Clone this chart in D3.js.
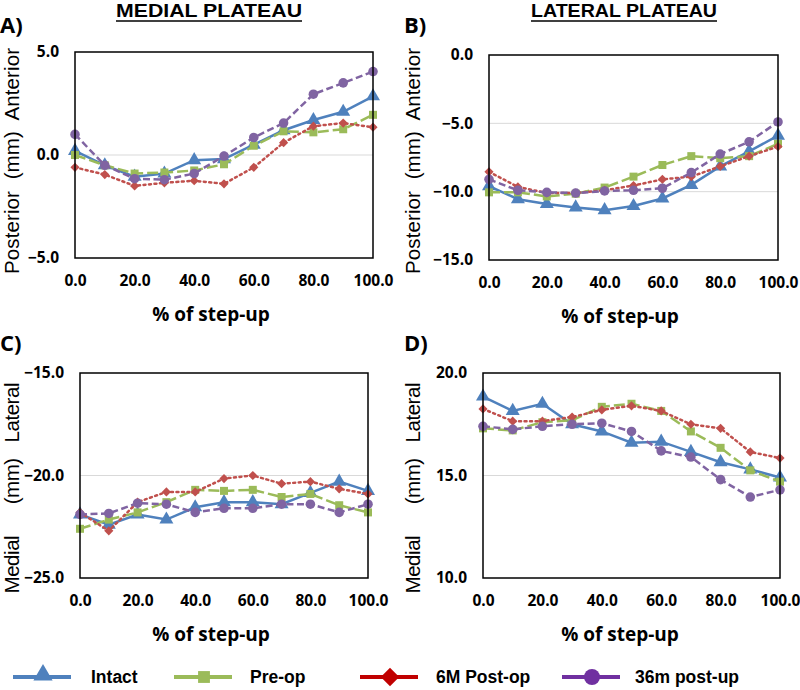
<!DOCTYPE html>
<html>
<head>
<meta charset="utf-8">
<script src="https://cdn.jsdelivr.net/npm/d3@7"></script>
<style>
  body { margin: 0; background: #fff; }
  svg { display: block; font-family: "Open Sans", sans-serif; }
</style>
</head>
<body>
<svg id="chart" width="800" height="690"></svg>
<script>
// % of step-up
var pct = [0, 10, 20, 30, 40, 50, 60, 70, 80, 90, 100];

// A) medial plateau, posterior/anterior (mm)
var medAP_intact = [0.2, -0.5, -1.05, -0.9, -0.25, -0.2, 0.5, 1.2, 1.7, 2.1, 2.85];
var medAP_preop  = [0.0, -0.5, -0.9, -0.85, -0.75, -0.45, 0.45, 1.15, 1.1, 1.25, 1.95];
var medAP_6m     = [-0.6, -0.95, -1.5, -1.35, -1.25, -1.4, -0.6, 0.6, 1.4, 1.55, 1.35];
var medAP_36m    = [1.0, -0.5, -1.15, -1.2, -0.9, -0.05, 0.85, 1.55, 2.95, 3.5, 4.05];

// B) lateral plateau, posterior/anterior (mm)
var latAP_intact = [-9.6, -10.55, -10.9, -11.15, -11.35, -11.05, -10.5, -9.5, -8.15, -7.05, -5.9];
var latAP_preop  = [-10.05, -10.05, -10.35, -10.15, -9.7, -8.9, -8.05, -7.4, -7.55, -7.4, -6.5];
var latAP_6m     = [-8.55, -9.65, -10.1, -10.1, -9.9, -9.55, -9.1, -8.9, -8.15, -7.4, -6.7];
var latAP_36m    = [-9.1, -9.9, -10.05, -10.1, -9.95, -9.9, -9.75, -8.6, -7.25, -6.35, -4.9];

// C) medial plateau, medial/lateral (mm)
var medML_intact = [-21.9, -22.4, -21.9, -22.15, -21.55, -21.3, -21.3, -21.4, -20.85, -20.3, -20.75];
var medML_preop  = [-22.6, -22.15, -21.8, -21.3, -20.7, -20.75, -20.7, -21.05, -20.9, -21.45, -21.8];
var medML_6m     = [-21.8, -22.7, -21.3, -20.8, -20.8, -20.15, -20.0, -20.4, -20.3, -20.65, -20.9];
var medML_36m    = [-21.9, -21.85, -21.35, -21.4, -21.8, -21.6, -21.6, -21.4, -21.4, -21.8, -21.4];

// D) lateral plateau, medial/lateral (mm)
var latML_intact = [18.85, 18.15, 18.5, 17.5, 17.15, 16.6, 16.65, 16.15, 15.65, 15.3, 14.9];
var latML_preop  = [17.3, 17.2, 17.6, 17.7, 18.35, 18.5, 18.15, 17.15, 16.35, 15.25, 14.7];
var latML_6m     = [18.25, 17.65, 17.65, 17.85, 18.2, 18.4, 18.15, 17.5, 17.3, 16.15, 15.85];
var latML_36m    = [17.4, 17.25, 17.4, 17.5, 17.55, 17.15, 16.2, 15.9, 14.8, 13.95, 14.3];

var seriesNames = ["Intact", "Pre-op", "6M Post-op", "36m post-up"];
var xTicks = [0, 20, 40, 60, 80, 100];

var styles = [
  {line: "#4F81BD", mark: "#4F81BD", legend: "#4F81BD", dash: null, sym: d3.symbolTriangle, size: 85, rot: 0, legSize: 160},
  {line: "#9BBB59", mark: "#9BBB59", legend: "#9BBB59", dash: "11,4", sym: d3.symbolSquare, size: 64, rot: 0, legSize: 140},
  {line: "#C0504D", mark: "#C0504D", legend: "#C00000", dash: "2,3.5", sym: d3.symbolSquare, size: 42, rot: 45, legSize: 170},
  {line: "#8064A2", mark: "#8064A2", legend: "#7030A0", dash: "7,3.5", sym: d3.symbolCircle, size: 72, rot: 0, legSize: 200}
];

var panels = [
  {tag: "A)", title: "MEDIAL PLATEAU", box: [75, 52, 373, 258], yDomain: [-5, 5], yTicks: [-5, 0, 5],
   yWords: ["Posterior", "(mm)", "Anterior"], series: [medAP_intact, medAP_preop, medAP_6m, medAP_36m]},
  {tag: "B)", title: "LATERAL PLATEAU", box: [489, 55, 778, 260], yDomain: [-15, 0], yTicks: [-15, -10, -5, 0],
   yWords: ["Posterior", "(mm)", "Anterior"], series: [latAP_intact, latAP_preop, latAP_6m, latAP_36m]},
  {tag: "C)", title: null, box: [80, 373, 368, 578], yDomain: [-25, -15], yTicks: [-25, -20, -15],
   yWords: ["Medial", "(mm)", "Lateral"], series: [medML_intact, medML_preop, medML_6m, medML_36m]},
  {tag: "D)", title: null, box: [483, 373, 780, 578], yDomain: [10, 20], yTicks: [10, 15, 20],
   yWords: ["Medial", "(mm)", "Lateral"], series: [latML_intact, latML_preop, latML_6m, latML_36m]}
];

var svg = d3.select("#chart");
var fmt = d3.format(".1f");

panels.forEach(function(p, pi) {
  var left = p.box[0], top = p.box[1], right = p.box[2], bottom = p.box[3];
  var col = pi % 2; // 0 left column, 1 right column
  var x = d3.scaleLinear().domain([0, 100]).range([left, right]);
  var y = d3.scaleLinear().domain(p.yDomain).range([bottom, top]);
  var g = svg.append("g");

  // panel tag
  g.append("text")
    .attr("x", col ? 404 : 0)
    .attr("y", pi < 2 ? 33 : 351)
    .attr("font-size", 22).attr("font-weight", 700)
    .text(p.tag);

  // column title
  if (p.title) {
    var cx = col ? 624 : 209;
    g.append("text")
      .attr("x", cx).attr("y", 17)
      .attr("text-anchor", "middle")
      .attr("font-family", "'Liberation Sans', Arial, sans-serif")
      .attr("font-size", 17.5).attr("font-weight", 700)
      .attr("textLength", 186).attr("lengthAdjust", "spacingAndGlyphs")
      .text(p.title);
    g.append("line")
      .attr("x1", cx - 93).attr("x2", cx + 93)
      .attr("y1", 21).attr("y2", 21)
      .attr("stroke", "#000").attr("stroke-width", 1.6);
  }

  // gridlines (interior ticks)
  g.selectAll(".grid").data(p.yTicks.filter(function(t) { return t !== p.yDomain[0] && t !== p.yDomain[1]; }))
    .join("line")
    .attr("x1", left).attr("x2", right)
    .attr("y1", function(d) { return y(d); }).attr("y2", function(d) { return y(d); })
    .attr("stroke", "#d9d9d9").attr("stroke-width", 1);

  // y tick labels
  var yAxis = d3.axisLeft(y).tickValues(p.yTicks).tickFormat(fmt).tickSize(0).tickPadding(16);
  var ya = g.append("g").attr("transform", "translate(" + left + ",0)").call(yAxis);
  ya.select(".domain").remove();
  ya.selectAll("text").attr("font-size", 15.5).attr("font-weight", 700)
    .attr("font-family", "'Open Sans', sans-serif").attr("fill", "#000");

  // x tick labels
  var xAxis = d3.axisBottom(x).tickValues(xTicks).tickFormat(fmt).tickSize(0).tickPadding(17);
  var xa = g.append("g").attr("transform", "translate(0," + bottom + ")").call(xAxis);
  xa.select(".domain").remove();
  xa.selectAll("text").attr("font-size", 15.5).attr("font-weight", 700)
    .attr("font-family", "'Open Sans', sans-serif").attr("fill", "#000");

  // x title
  g.append("text")
    .attr("x", col ? 620 : 211)
    .attr("y", bottom + 63)
    .attr("text-anchor", "middle")
    .attr("font-size", 19).attr("font-weight", 700)
    .text("% of step-up");

  // y title
  var yMid = pi < 2 ? 161 : 488;
  var yLen = pi < 2 ? 226 : 211;
  g.append("text")
    .attr("transform", "translate(" + (col ? 420 : 19) + "," + yMid + ") rotate(-90)")
    .attr("text-anchor", "middle")
    .attr("font-family", "'Liberation Sans', Arial, sans-serif")
    .attr("font-size", 20.5)
    .attr("textLength", yLen).attr("lengthAdjust", "spacing")
    .style("white-space", "pre")
    .text(p.yWords[0] + (pi < 2 ? "  " : "      ") + p.yWords[1] + (pi < 2 ? "  " : "   ") + p.yWords[2]);

  // series
  p.series.forEach(function(vals, si) {
    var st = styles[si];
    var pts = pct.map(function(v, i) { return [v, vals[i]]; });
    var line = d3.line().x(function(d) { return x(d[0]); }).y(function(d) { return y(d[1]); });
    g.append("path")
      .attr("d", line(pts))
      .attr("fill", "none")
      .attr("stroke", st.line)
      .attr("stroke-width", 2.5)
      .attr("stroke-linecap", si === 2 ? "round" : "butt")
      .attr("stroke-dasharray", st.dash);
    g.selectAll(".m" + si).data(pts).join("path")
      .attr("transform", function(d) { return "translate(" + x(d[0]) + "," + y(d[1]) + ") rotate(" + st.rot + ")"; })
      .attr("d", d3.symbol().type(st.sym).size(st.size)())
      .attr("fill", st.mark);
  });

  // plot border
  g.append("rect")
    .attr("x", left).attr("y", top)
    .attr("width", right - left).attr("height", bottom - top)
    .attr("fill", "none").attr("stroke", "#000").attr("stroke-width", 1.5);
});

// legend
var legX = [13, 174, 360, 562];
var legTextX = [91, 250, 436, 635];
var legY = 677;
var leg = svg.append("g");
seriesNames.forEach(function(name, i) {
  var st = styles[i];
  var x0 = legX[i];
  leg.append("line")
    .attr("x1", x0).attr("x2", x0 + 58)
    .attr("y1", legY).attr("y2", legY)
    .attr("stroke", st.legend).attr("stroke-width", 4);
  leg.append("path")
    .attr("transform", "translate(" + (x0 + 30) + "," + (legY - (i === 0 ? 2 : 0)) + ") rotate(" + st.rot + ")")
    .attr("d", d3.symbol().type(st.sym).size(st.legSize)())
    .attr("fill", st.legend);
  leg.append("text")
    .attr("x", legTextX[i]).attr("y", legY + 6)
    .attr("font-family", "'Liberation Sans', Arial, sans-serif")
    .attr("font-size", 17.5).attr("font-weight", 700)
    .text(name);
});
</script>
</body>
</html>
